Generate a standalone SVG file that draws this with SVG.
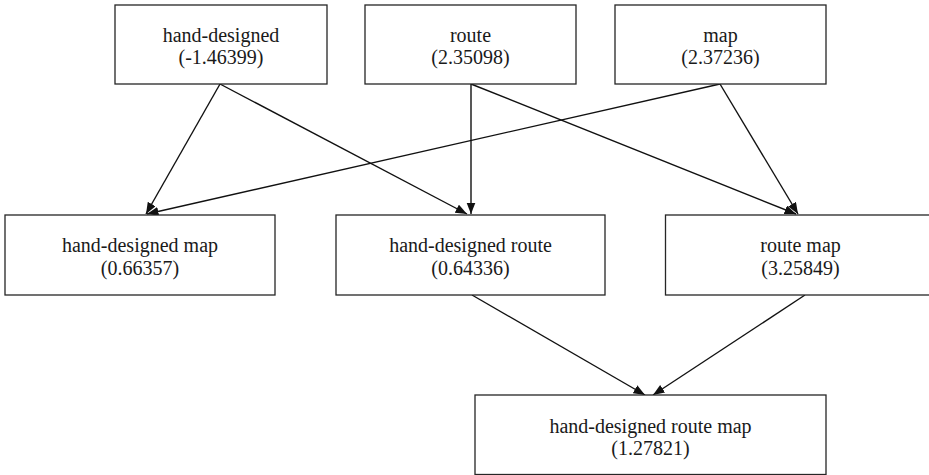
<svg xmlns="http://www.w3.org/2000/svg" width="929" height="475" viewBox="0 0 929 475">
  <style>
    .box { fill: #ffffff; stroke: #262626; stroke-width: 1.3; }
    .lbl { font-family: "Liberation Serif", "Times New Roman", serif; font-size: 20px; fill: #1a1a1a; text-anchor: middle; }
    .edge { fill: none; stroke: #111111; stroke-width: 1.4; marker-end: url(#arrow); }
  </style>
  <defs>
    <marker id="arrow" markerUnits="userSpaceOnUse" markerWidth="12" markerHeight="10" refX="11.5" refY="4.5" orient="auto">
      <path d="M0,0 L11.5,4.5 L0,9 z" fill="#111111"/>
    </marker>
  </defs>

  <rect width="929" height="475" fill="#ffffff"/>

  <!-- edges between the term nodes -->
  <g id="connectors">
    <line class="edge" x1="220" y1="84" x2="146" y2="214"/>
    <line class="edge" x1="220" y1="84" x2="467" y2="214"/>
    <line class="edge" x1="471" y1="84" x2="471" y2="214"/>
    <line class="edge" x1="471" y1="84" x2="796" y2="214"/>
    <line class="edge" x1="720" y1="84" x2="147" y2="214"/>
    <line class="edge" x1="720" y1="84" x2="798" y2="214"/>
    <line class="edge" x1="472" y1="295" x2="645" y2="395"/>
    <line class="edge" x1="805" y1="295" x2="653" y2="395"/>
  </g>

  <!-- top row -->
  <g id="hand-designed">
    <rect class="box" x="115" y="5" width="212" height="79"/>
    <text class="lbl" x="221" y="42">hand-designed</text>
    <text class="lbl" x="221" y="64">(-1.46399)</text>
  </g>
  <g id="route">
    <rect class="box" x="365" y="5" width="211" height="79"/>
    <text class="lbl" x="470.5" y="42">route</text>
    <text class="lbl" x="470.5" y="64">(2.35098)</text>
  </g>
  <g id="map">
    <rect class="box" x="615" y="5" width="211" height="79"/>
    <text class="lbl" x="720.5" y="42">map</text>
    <text class="lbl" x="720.5" y="64">(2.37236)</text>
  </g>

  <!-- middle row -->
  <g id="hand-designed-map">
    <rect class="box" x="5" y="215" width="270" height="80"/>
    <text class="lbl" x="140" y="252">hand-designed map</text>
    <text class="lbl" x="140" y="275">(0.66357)</text>
  </g>
  <g id="hand-designed-route">
    <rect class="box" x="336" y="215" width="269" height="80"/>
    <text class="lbl" x="470.5" y="252">hand-designed route</text>
    <text class="lbl" x="470.5" y="275">(0.64336)</text>
  </g>
  <g id="route-map">
    <rect class="box" x="665.5" y="215" width="270" height="80"/>
    <text class="lbl" x="800.5" y="252">route map</text>
    <text class="lbl" x="800.5" y="275">(3.25849)</text>
  </g>

  <!-- bottom row -->
  <g id="hand-designed-route-map">
    <rect class="box" x="475" y="395" width="351" height="79.5"/>
    <text class="lbl" x="650.5" y="433">hand-designed route map</text>
    <text class="lbl" x="650.5" y="455">(1.27821)</text>
  </g>
</svg>
